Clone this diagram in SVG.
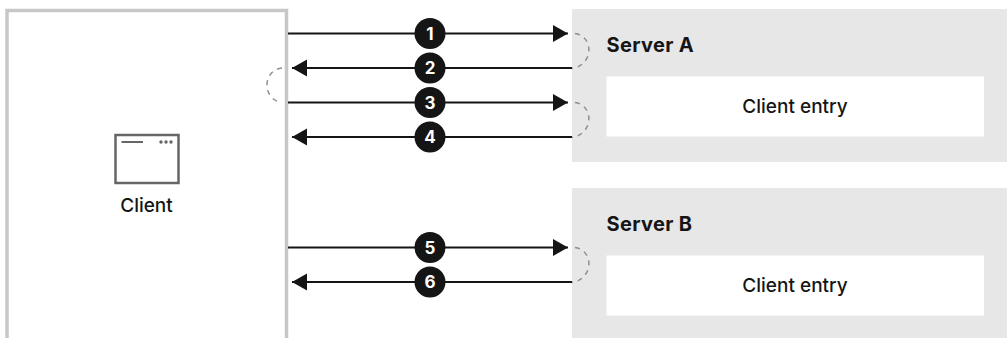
<svg xmlns="http://www.w3.org/2000/svg" width="1007" height="338" viewBox="0 0 1007 338">
<style>
.t{font-family:"Inter","Liberation Sans",sans-serif;fill:#151515}
.b{font-size:20px;font-weight:700;letter-spacing:.35px}
.e{font-size:19px;font-weight:500;text-anchor:middle}
.n{font-size:17px;font-weight:700;text-anchor:middle;fill:#fff;font-family:"Inter","Liberation Sans",sans-serif}
.l{stroke:#151515;stroke-width:2;fill:none}
.d{stroke:#8f8f8f;stroke-width:1.5;fill:none;stroke-dasharray:5 5}
</style>
<defs>
<marker id="a" markerUnits="userSpaceOnUse" markerWidth="15" markerHeight="18" refX="15" refY="9" orient="auto"><path d="M0 0.5L15 9L0 17.5Z" fill="#151515"/></marker>
</defs>
<rect width="1007" height="338" fill="#fff"/>
<g id="client">
<rect x="7" y="10.500" width="279.500" height="340" fill="#fff" stroke="#c7c7c7" stroke-width="3.500"/>
<rect x="115.500" y="135" width="63" height="48" fill="none" stroke="#666" stroke-width="2.500"/>
<path d="M121.500 142H143" stroke="#666" stroke-width="2"/>
<circle cx="161" cy="142" r="1.700" fill="#666"/><circle cx="166" cy="142" r="1.700" fill="#666"/><circle cx="171" cy="142" r="1.700" fill="#666"/>
<text class="t e" x="146.500" y="211.500">Client</text>
</g>
<g id="server-a">
<rect x="572" y="9" width="435" height="153" fill="#e7e7e7"/>
<text class="t b" x="606.500" y="51.500">Server A</text>
<rect x="606.500" y="76.500" width="377.500" height="60" fill="#fff"/>
<text class="t e" x="795" y="112.500">Client entry</text>
</g>
<g id="server-b">
<rect x="572" y="188" width="435" height="150" fill="#e7e7e7"/>
<text class="t b" x="606.500" y="230.500">Server B</text>
<rect x="606.500" y="255.500" width="377.500" height="60" fill="#fff"/>
<text class="t e" x="795" y="291.500">Client entry</text>
</g>
<g id="connectors">
<path class="l" marker-end="url(#a)" d="M288 33.500H568"/>
<path class="l" marker-end="url(#a)" d="M572 68H292"/>
<path class="l" marker-end="url(#a)" d="M288 102.500H568"/>
<path class="l" marker-end="url(#a)" d="M572 137H292"/>
<path class="l" marker-end="url(#a)" d="M288 247.500H568"/>
<path class="l" marker-end="url(#a)" d="M572 282H292"/>
<path class="d" d="M575 33.500C594 36 594 65 572 68.500"/>
<path class="d" d="M575 102.500C594 105 594 134 572 137.500"/>
<path class="d" d="M575 247.500C594 250 594 279 572 282.500"/>
<path class="d" d="M282 68C262 70 262 100 282 102.500"/>
</g>
<g id="badges">
<circle cx="430" cy="33.500" r="15.500" fill="#151515"/><text class="n" x="430" y="39.500">1</text>
<circle cx="430" cy="68" r="15.500" fill="#151515"/><text class="n" x="430" y="74">2</text>
<circle cx="430" cy="102.500" r="15.500" fill="#151515"/><text class="n" x="430" y="108.500">3</text>
<circle cx="430" cy="137" r="15.500" fill="#151515"/><text class="n" x="430" y="143">4</text>
<circle cx="430" cy="247.500" r="15.500" fill="#151515"/><text class="n" x="430" y="253.500">5</text>
<circle cx="430" cy="282" r="15.500" fill="#151515"/><text class="n" x="430" y="288">6</text>
</g>
</svg>
